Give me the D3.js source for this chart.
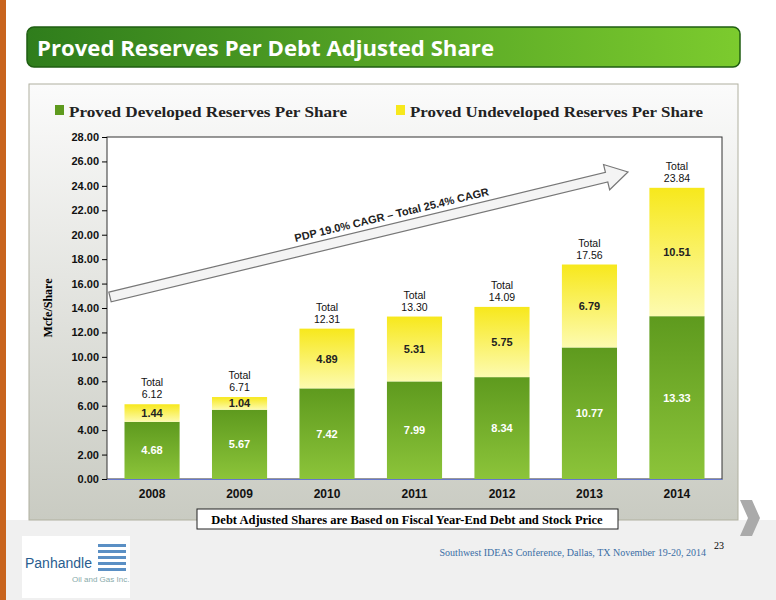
<!DOCTYPE html><html><head><meta charset="utf-8"><script src="https://cdn.jsdelivr.net/npm/d3@7"></script>
<style>body{margin:0;background:#fff}</style></head><body><script>
const years=["2008","2009","2010","2011","2012","2013","2014"];
const developed=[4.68,5.67,7.42,7.99,8.34,10.77,13.33];
const undeveloped=[1.44,1.04,4.89,5.31,5.75,6.79,10.51];
const totals=[6.12,6.71,12.31,13.30,14.09,17.56,23.84];
const yTicks=[0,2,4,6,8,10,12,14,16,18,20,22,24,26,28];

const svg=d3.select("body").append("svg").attr("width",776).attr("height",600);
const defs=svg.append("defs");
const g1=defs.append("linearGradient").attr("id","tb");
g1.append("stop").attr("offset","0").attr("stop-color","#2f7d1c");
g1.append("stop").attr("offset","1").attr("stop-color","#7ccb2e");
const g2=defs.append("linearGradient").attr("id","pn").attr("x1",0).attr("y1",0).attr("x2",0).attr("y2",1);
g2.append("stop").attr("offset","0").attr("stop-color","#fbfbfb");
g2.append("stop").attr("offset","1").attr("stop-color","#c9cbc2");
const gg=defs.append("linearGradient").attr("id","gb").attr("x1",0).attr("y1",0).attr("x2",0).attr("y2",1);
gg.append("stop").attr("offset","0").attr("stop-color","#5e9a1e");
gg.append("stop").attr("offset","1").attr("stop-color","#8cc43a");
const gy=defs.append("linearGradient").attr("id","yb").attr("x1",0).attr("y1",0).attr("x2",0).attr("y2",1);
gy.append("stop").attr("offset","0").attr("stop-color","#f7e81c");
gy.append("stop").attr("offset","1").attr("stop-color","#fdfbb0");

svg.append("rect").attr("x",0).attr("y",0).attr("width",6).attr("height",600).attr("fill","#c8641e");
svg.append("rect").attr("x",6).attr("y",520).attr("width",770).attr("height",80).attr("fill","#f0f0f0");
svg.append("rect").attr("x",27).attr("y",27).attr("width",713).attr("height",40).attr("rx",7).attr("fill","url(#tb)").attr("stroke","#1f5e12").attr("stroke-width",1.5);
svg.append("text").attr("x",37).attr("y",56).attr("fill","#fff").attr("font-family","Open Sans, sans-serif").attr("font-weight","bold").attr("font-size",22).attr("textLength",457).attr("lengthAdjust","spacingAndGlyphs").text("Proved Reserves Per Debt Adjusted Share");
svg.append("rect").attr("x",29).attr("y",84).attr("width",709).attr("height",436).attr("fill","url(#pn)").attr("stroke","#b0b0a0");

svg.append("rect").attr("x",55).attr("y",105).attr("width",9).attr("height",10).attr("fill","#5e9a1e");
svg.append("text").attr("x",69).attr("y",117).attr("font-family","Liberation Serif, serif").attr("font-weight","bold").attr("font-size",15).attr("fill","#222").attr("textLength",278).attr("lengthAdjust","spacingAndGlyphs").text("Proved Developed Reserves Per Share");
svg.append("rect").attr("x",396).attr("y",105).attr("width",9).attr("height",10).attr("fill","#f7e81c");
svg.append("text").attr("x",410).attr("y",117).attr("font-family","Liberation Serif, serif").attr("font-weight","bold").attr("font-size",15).attr("fill","#222").attr("textLength",293).attr("lengthAdjust","spacingAndGlyphs").text("Proved Undeveloped Reserves Per Share");

const L=107,R=722,T=137,B=479;
const x=d3.scaleBand().domain(years).range([L,R]).paddingInner(0.37).paddingOuter(0.2);
const y=d3.scaleLinear().domain([0,28]).range([B,T]);
svg.append("rect").attr("x",L).attr("y",T).attr("width",R-L).attr("height",B-T).attr("fill","#fff").attr("stroke","#333");
const ya=svg.append("g").attr("transform",`translate(${L},0)`).call(d3.axisLeft(y).tickValues(yTicks).tickFormat(d3.format(".2f")).tickSize(5));
ya.selectAll("text").attr("font-family","Liberation Sans Narrow, Liberation Sans, sans-serif").attr("font-weight","bold").attr("font-size",11).attr("fill","#111");
ya.select(".domain").remove();
const xa=svg.append("g").attr("transform",`translate(0,${B})`).call(d3.axisBottom(x).tickSize(0).tickPadding(10));
xa.selectAll("text").attr("font-family","Liberation Sans, sans-serif").attr("font-weight","bold").attr("font-size",12).attr("fill","#111");
xa.select(".domain").attr("stroke","#6677cc");
svg.append("text").attr("transform",`translate(52,${(T+B)/2}) rotate(-90)`).attr("text-anchor","middle").attr("font-family","Liberation Serif, serif").attr("font-weight","bold").attr("font-size",12).text("Mcfe/Share");

const bw=x.bandwidth();
years.forEach((yr,i)=>{
  const bx=x(yr);
  svg.append("rect").attr("x",bx).attr("y",y(developed[i])).attr("width",bw).attr("height",B-y(developed[i])).attr("fill","url(#gb)");
  svg.append("rect").attr("x",bx).attr("y",y(developed[i]+undeveloped[i])).attr("width",bw).attr("height",y(developed[i])-y(developed[i]+undeveloped[i])).attr("fill","url(#yb)");
  svg.append("text").attr("x",bx+bw/2).attr("y",(y(developed[i])+B)/2+4).attr("text-anchor","middle").attr("fill","#fff").attr("font-family","Liberation Sans, sans-serif").attr("font-weight","bold").attr("font-size",11).text(developed[i].toFixed(2));
  svg.append("text").attr("x",bx+bw/2).attr("y",(y(developed[i])+y(totals[i]))/2+4).attr("text-anchor","middle").attr("fill","#222").attr("font-family","Liberation Sans, sans-serif").attr("font-weight","bold").attr("font-size",11).text(undeveloped[i].toFixed(2));
  const tx=bx+bw/2, ty=y(totals[i])-18;
  svg.append("text").attr("x",tx).attr("y",ty).attr("text-anchor","middle").attr("font-family","Liberation Sans, sans-serif").attr("font-size",10.5).attr("fill","#111").text("Total");
  svg.append("text").attr("x",tx).attr("y",ty+12).attr("text-anchor","middle").attr("font-family","Liberation Sans, sans-serif").attr("font-size",10.5).attr("fill","#111").text(totals[i].toFixed(2));
});

const ang=Math.atan2(172-297,628-110)*180/Math.PI;
const len=Math.hypot(628-110,172-297);
const ag=svg.append("g").attr("transform",`translate(110,297) rotate(${ang})`);
ag.append("path").attr("d",`M0,-5 L${len-22},-5 L${len-22},-13 L${len},0 L${len-22},13 L${len-22},5 L0,5 Z`).attr("fill","#f4f4f4").attr("stroke","#777").attr("stroke-width",1.2);
ag.append("text").attr("x",len*0.55).attr("y",-10).attr("text-anchor","middle").attr("font-family","Liberation Sans, sans-serif").attr("font-weight","bold").attr("font-size",11).attr("fill","#222").text("PDP 19.0% CAGR – Total 25.4% CAGR");

svg.append("rect").attr("x",197).attr("y",509).attr("width",421).attr("height",20).attr("fill","#fff").attr("stroke","#222");
svg.append("text").attr("x",407).attr("y",524).attr("text-anchor","middle").attr("font-family","Liberation Serif, serif").attr("font-weight","bold").attr("font-size",12.5).text("Debt Adjusted Shares are Based on Fiscal Year-End Debt and Stock Price");
svg.append("path").attr("d","M740,500 L752,500 L760,518 L752,536 L740,536 L748,518 Z").attr("fill","#aaa");
svg.append("text").attr("x",724).attr("y",549).attr("text-anchor","end").attr("font-family","Liberation Serif, serif").attr("font-size",10).text("23");
svg.append("text").attr("x",706).attr("y",556).attr("text-anchor","end").attr("font-family","Liberation Serif, serif").attr("font-size",10).attr("fill","#3a6ea5").text("Southwest IDEAS Conference, Dallas, TX November 19-20, 2014");
svg.append("rect").attr("x",22).attr("y",536).attr("width",108).attr("height",62).attr("fill","#fff");
svg.append("text").attr("x",25).attr("y",568).attr("font-family","Liberation Sans Narrow, sans-serif").attr("font-size",14).attr("fill","#2a5d8f").text("Panhandle");
svg.append("text").attr("x",72).attr("y",582).attr("font-family","Liberation Sans Narrow, sans-serif").attr("font-size",8).attr("fill","#8aa").text("Oil and Gas Inc.");
[0,1,2,3,4].forEach(k=>svg.append("rect").attr("x",98).attr("y",544+k*6).attr("width",28).attr("height",3).attr("fill","#5a8fc4"));
</script></body></html>
